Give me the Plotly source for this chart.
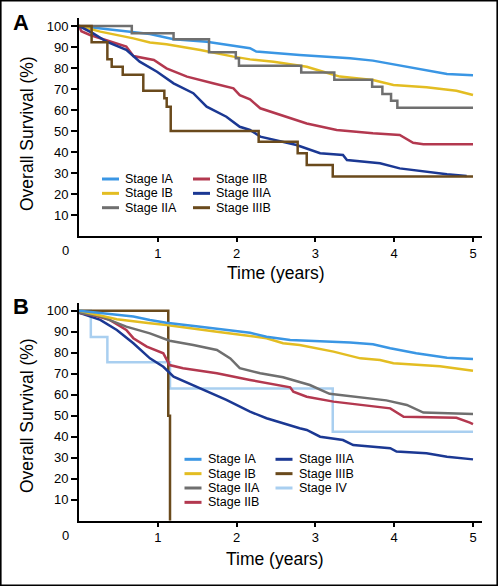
import plotly.graph_objects as go

W, H = 498, 586

stages = ["Stage IA", "Stage IB", "Stage IIA", "Stage IIB", "Stage IIIA", "Stage IIIB", "Stage IV"]
colors = {"Stage IA": "#3a96e4", "Stage IB": "#e3bd22", "Stage IIA": "#6f6f6f", "Stage IIB": "#b3384f",
          "Stage IIIA": "#1b3893", "Stage IIIB": "#6a4a1c", "Stage IV": "#a9cff0"}

# ---------------- Panel A data (time in years, survival %) ----------------
a_ia_t = [0, 0.69, 0.90, 1.20, 1.62, 2.17, 2.25, 2.80, 3.44, 3.73, 4.16, 4.67, 5.0]
a_ia_s = [100, 97.3, 96.2, 93.7, 92.5, 89.4, 87.8, 86.2, 84.6, 83.5, 80.6, 77.1, 76.5]
a_ib_t = [0, 0.27, 0.69, 0.90, 1.11, 1.54, 1.96, 2.17, 2.47, 2.89, 3.10, 3.31, 3.73, 3.99, 4.41, 4.79, 5.0]
a_ib_s = [100, 97.3, 94.1, 92.1, 91.3, 88.6, 85.4, 84.1, 83.0, 80.6, 78.2, 75.9, 74.3, 71.9, 70.8, 69.2, 67.1]
a_iia_t = [0, 0.67, 1.20, 1.65, 1.99, 2.03, 2.82, 3.24, 3.72, 3.85, 3.96, 4.04, 5.0]
a_iia_s = [100, 96.5, 93.7, 87.5, 84.6, 81.1, 77.9, 74.4, 71.1, 67.6, 64.4, 61.1, 61.1]
a_iib_t = [0, 0.03, 0.14, 0.40, 0.60, 0.69, 0.95, 1.11, 1.37, 1.70, 1.96, 2.04, 2.17, 2.30, 2.68, 2.89, 3.27, 3.73, 4.07, 4.24, 4.37, 5.0]
a_iib_s = [100, 97.5, 95.7, 92.5, 90.2, 85.7, 83.8, 79.8, 75.9, 72.7, 70.3, 67.1, 65.1, 60.8, 56.0, 53.6, 50.5, 48.9, 48.1, 44.4, 43.7, 43.7]
a_iiia_t = [0, 0.18, 0.35, 0.60, 0.77, 0.99, 1.20, 1.45, 1.62, 1.87, 2.04, 2.17, 2.30, 2.68, 2.76, 3.06, 3.35, 3.40, 3.82, 4.07, 4.41, 4.67, 4.92]
a_iiia_s = [100, 96.5, 92.5, 88.6, 83.0, 78.2, 72.7, 68.0, 61.6, 56.8, 52.0, 50.5, 47.3, 44.1, 43.3, 39.4, 38.6, 36.2, 34.6, 32.2, 30.6, 29.4, 28.6]
a_iiib_t = [0, 0.16, 0.36, 0.415, 0.555, 0.816, 1.083, 1.113, 1.164, 2.28, 2.775, 2.89, 3.22, 5.0]
a_iiib_s = [100, 92.2, 84.1, 80.6, 76.8, 69.2, 65.6, 61.6, 50.0, 44.9, 39.4, 33.8, 28.3, 28.3]

# ---------------- Panel B data ----------------
b_ia_t = [0, 0.69, 0.90, 1.11, 1.54, 2.17, 2.38, 2.68, 3.44, 3.73, 3.95, 4.28, 4.67, 5.0]
b_ia_s = [100, 97.2, 95.6, 94.3, 92.4, 89.5, 87.6, 86.0, 84.8, 84.0, 82.1, 79.7, 77.6, 77.0]
b_ib_t = [0, 0.48, 0.90, 1.11, 1.75, 2.17, 2.38, 2.59, 2.80, 3.23, 3.57, 3.82, 3.99, 4.58, 5.0]
b_ib_s = [100, 95.9, 94.0, 93.2, 90.0, 88.0, 86.9, 84.5, 83.7, 80.5, 77.3, 76.5, 75.0, 73.5, 71.4]
b_iia_t = [0, 0.27, 0.60, 0.90, 1.15, 1.45, 1.75, 1.92, 2.04, 2.30, 2.59, 2.93, 3.18, 3.65, 3.90, 4.16, 4.37, 5.0]
b_iia_s = [99, 97.3, 92.4, 89.2, 85.7, 83.7, 81.3, 77.3, 72.6, 70.2, 68.3, 64.6, 60.4, 58.6, 57.3, 55.1, 51.5, 50.8]
b_iib_t = [0, 0.22, 0.39, 0.60, 0.69, 0.86, 1.07, 1.15, 1.32, 1.75, 2.17, 2.68, 2.72, 2.89, 3.23, 3.57, 3.95, 4.12, 4.79, 4.96, 5.0]
b_iib_s = [99, 97.5, 95.6, 90.8, 86.9, 82.9, 79.7, 74.1, 72.6, 70.2, 67.0, 63.5, 61.4, 59.0, 56.7, 55.1, 53.5, 49.5, 49.0, 46.7, 46.0]
b_iiia_t = [0, 0.27, 0.48, 0.69, 0.90, 1.07, 1.20, 1.54, 1.87, 2.17, 2.38, 2.80, 2.89, 3.06, 3.35, 3.48, 3.95, 4.03, 4.41, 4.67, 5.0]
b_iiia_s = [99, 95.6, 90.8, 84.5, 77.3, 73.3, 68.6, 63.0, 57.5, 51.9, 48.8, 44.0, 43.2, 40.0, 38.4, 36.0, 34.5, 32.9, 32.1, 30.5, 29.2]
b_iiib_t = [0, 1.133, 1.155]
b_iiib_s = [100, 50.0, 0]
b_iv_t = [0, 0.15, 0.36, 1.155, 3.22, 5.0]
b_iv_s = [100, 87.5, 75.4, 63.0, 42.4, 42.4]

x_ticks = [1, 2, 3, 4, 5]
y_ticks = [10, 20, 30, 40, 50, 60, 70, 80, 90, 100]

panel_a = [("Stage IA", a_ia_t, a_ia_s, "linear"), ("Stage IB", a_ib_t, a_ib_s, "linear"),
           ("Stage IIA", a_iia_t, a_iia_s, "hv"), ("Stage IIB", a_iib_t, a_iib_s, "linear"),
           ("Stage IIIA", a_iiia_t, a_iiia_s, "linear"), ("Stage IIIB", a_iiib_t, a_iiib_s, "hv")]
panel_b = [("Stage IV", b_iv_t, b_iv_s, "hv"), ("Stage IIIB", b_iiib_t, b_iiib_s, "hv"),
           ("Stage IIIA", b_iiia_t, b_iiia_s, "linear"), ("Stage IIB", b_iib_t, b_iib_s, "linear"),
           ("Stage IIA", b_iia_t, b_iia_s, "linear"), ("Stage IB", b_ib_t, b_ib_s, "linear"),
           ("Stage IA", b_ia_t, b_ia_s, "linear")]

fig = go.Figure()
for name, t, s, shp in panel_a:
    fig.add_trace(go.Scatter(x=t, y=s, mode="lines", name=name, showlegend=False,
                             line=dict(color=colors[name], width=2.5, shape=shp),
                             xaxis="x", yaxis="y"))
for name, t, s, shp in panel_b:
    fig.add_trace(go.Scatter(x=t, y=s, mode="lines", name=name, showlegend=False,
                             line=dict(color=colors[name], width=2.5, shape=shp),
                             xaxis="x2", yaxis="y2"))

def px(x):
    return x / W

def py(y):
    return 1 - y / H

TICKF = dict(family="Liberation Sans, Arial, sans-serif", size=13, color="black")
TITLEF = dict(family="Liberation Sans Narrow, Arial Narrow, Liberation Sans, Arial, sans-serif", size=17.5, color="black")

xr = [0, (482 - 79) / 78.8]
common_x = dict(range=xr, tickvals=x_ticks, ticks="outside", ticklen=4, tickwidth=1.5, tickcolor="black",
                showline=True, linewidth=2, linecolor="black", showgrid=False, zeroline=False,
                tickfont=TICKF, fixedrange=True, automargin=False)
common_y = dict(range=[0, 103.8], tickvals=y_ticks, ticks="outside", ticklen=6, tickwidth=1.5, tickcolor="black",
                showline=True, linewidth=2, linecolor="black", showgrid=False, zeroline=False,
                tickfont=TICKF, fixedrange=True, automargin=False)

fig.update_layout(
    width=W, height=H, margin=dict(l=0, r=0, t=0, b=0, autoexpand=False),
    paper_bgcolor="white", plot_bgcolor="white", showlegend=False,
    xaxis=dict(domain=[px(79), px(482)], anchor="y", **common_x),
    yaxis=dict(domain=[py(236), py(18)], anchor="x", **common_y),
    xaxis2=dict(domain=[px(79), px(482)], anchor="y2", **common_x),
    yaxis2=dict(domain=[py(520.7), py(302.7)], anchor="x2", **common_y),
)

ann = []
def text(x, y, s, font, xanchor="center", **kw):
    ann.append(dict(x=px(x), y=py(y), xref="paper", yref="paper", text=s, showarrow=False,
                    font=font, xanchor=xanchor, yanchor="middle", **kw))

LABF = dict(family="Liberation Sans, Arial, sans-serif", size=22, color="black")
text(21, 22, "<b>A</b>", LABF)
text(21, 306, "<b>B</b>", LABF)
text(65, 250, "0", TICKF)
text(65, 535, "0", TICKF)
text(276, 273, "Time (years)", TITLEF)
text(275, 559, "Time (years)", TITLEF)
text(27, 134, "Overall Survival (%)", TITLEF, textangle=-90)
text(27, 416, "Overall Survival (%)", TITLEF, textangle=-90)

shapes = [dict(type="rect", xref="paper", yref="paper", x0=px(0.8), x1=px(W - 0.8), y0=py(H - 0.8), y1=py(0.8),
               line=dict(color="black", width=1.6))]

LEGF = dict(family="Liberation Sans, Arial, sans-serif", size=12.5, color="black")
def leg_item(name, lx, ly):
    shapes.append(dict(type="line", xref="paper", yref="paper", x0=px(lx), x1=px(lx + 17), y0=py(ly), y1=py(ly),
                       line=dict(color=colors[name], width=3)))
    text(lx + 21, ly, name, LEGF, xanchor="left")

legend_a = [["Stage IA", "Stage IB", "Stage IIA"], ["Stage IIB", "Stage IIIA", "Stage IIIB"]]
legend_b = [["Stage IA", "Stage IB", "Stage IIA", "Stage IIB"], ["Stage IIIA", "Stage IIIB", "Stage IV"]]
for ci, col in enumerate(legend_a):
    for ri, name in enumerate(col):
        leg_item(name, [102, 193][ci], 179 + ri * 14.35)
for ci, col in enumerate(legend_b):
    for ri, name in enumerate(col):
        leg_item(name, [184.5, 275.5][ci], 459.3 + ri * 14.35)

fig.update_layout(annotations=ann, shapes=shapes)
fig.write_html("out.html", config={"displayModeBar": False},
               post_script="document.body.style.margin='0';document.body.style.overflow='hidden';")
